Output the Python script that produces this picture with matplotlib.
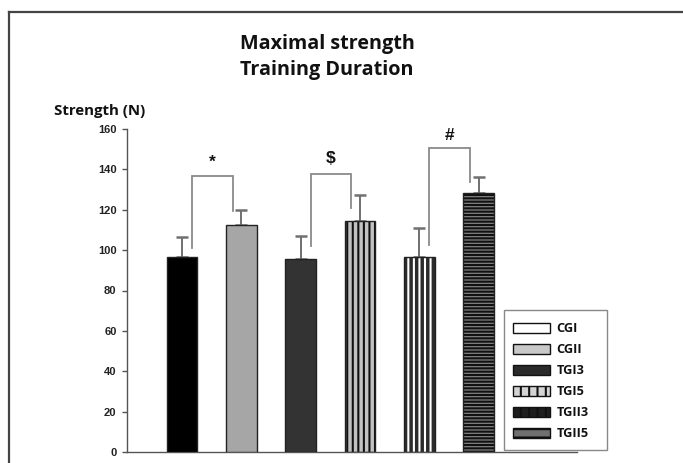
import matplotlib
matplotlib.use("Agg")
import matplotlib.pyplot as plt
import matplotlib.patches as mpatches
from matplotlib.lines import Line2D
import numpy as np

# ---- data ----
groups = ["CGI", "CGII", "TGI3", "TGI5", "TGII3", "TGII5"]
means = [96.5, 112.2, 95.6, 114.5, 96.5, 128.1]
err_up = [9.9, 7.7, 11.3, 12.9, 14.3, 7.9]
yticks = [0, 20, 40, 60, 80, 100, 120, 140, 160]
# significance brackets: (left bar, right bar, left foot, top, right foot, symbol, symbol y)
brackets = [(0, 1, 101.0, 136.6, 119.5, "*", 143.5),
            (2, 3, 102.0, 137.5, 121.0, "$", 145.5),
            (4, 5, 102.5, 150.8, 133.8, "#", 157.0)]

title_lines = ["Maximal strength", "Training Duration"]
ylabel = "Strength (N)"

# ---- styles ----
plt.rcParams["hatch.linewidth"] = 1.5
faces = ["#000000", "#a6a6a6", "#333333", "#c2c2c2", "#2b2b2b", "#808080"]
hatches = [None, None, None, "|||", "|||", "-----"]
hatch_cols = [None, None, None, "#111111", "#ffffff", "#111111"]

W, H = 683, 463
fig = plt.figure(figsize=(W / 100, H / 100), dpi=100)
ax = fig.add_axes([127 / W, 11 / H, 450 / W, 323 / H])

x = np.arange(len(groups))
bw = 0.515
for i in range(len(groups)):
    if hatches[i]:
        ax.bar(x[i], means[i], bw, color=faces[i], edgecolor=hatch_cols[i],
               hatch=hatches[i], linewidth=0, zorder=2)
        ax.bar(x[i], means[i], bw, fill=False, edgecolor="#222222",
               linewidth=1.0, zorder=3)
    else:
        ax.bar(x[i], means[i], bw, color=faces[i], edgecolor="#222222",
               linewidth=1.0, zorder=3)

ax.errorbar(x, means, yerr=[np.zeros(len(means)), err_up], fmt="none",
            ecolor="#707070", elinewidth=1.4, capsize=4, capthick=1.8, zorder=1)

for (i, j, yl, yt, yr, sym, ys) in brackets:
    xl, xr = x[i] + 0.17, x[j] - 0.15
    ax.plot([xl, xl, xr, xr], [yl, yt, yt, yr], color="#8a8a8a", lw=1.3,
            solid_joinstyle="miter", zorder=4)
    ax.text((xl + xr) / 2, ys, sym, ha="center", va="center",
            fontsize=12.5, fontweight="bold", family="Liberation Sans", color="#111111")

ax.set_xlim(-0.93, 6.66)
ax.set_ylim(0, 160)
ax.set_yticks(yticks)
ax.set_yticklabels([str(v) for v in yticks], fontsize=8, fontweight="bold",
                   family="Liberation Sans", color="#222222")
ax.set_xticks([])
for s in ["top", "right"]:
    ax.spines[s].set_visible(False)
for s in ["left", "bottom"]:
    ax.spines[s].set_color("#555555")
    ax.spines[s].set_linewidth(1.0)
ax.tick_params(axis="y", direction="out", length=3.5, width=1, color="#555555", pad=4)

for k, (line, yb) in enumerate(zip(title_lines, [49, 75])):
    fig.text(327 / W, 1 - yb / H, line, ha="center", va="baseline", fontsize=14.2,
             fontweight="bold", family="Open Sans", color="#111111")
fig.text(54 / W, 1 - 115 / H, ylabel, ha="left", va="baseline", fontsize=10.8,
         fontweight="bold", family="Open Sans", color="#111111")

# legend
leg_faces = ["#ffffff", "#c8c8c8", "#2a2a2a", "#d4d4d4", "#1e1e1e", "#707070"]
leg_hatch = [None, None, None, "||", "||", "--"]
handles = []
for i, g in enumerate(groups):
    hp = mpatches.Patch(facecolor=leg_faces[i], edgecolor="#111111",
                        hatch=leg_hatch[i], linewidth=1.0, label=g)
    handles.append(hp)
fig.add_artist(mpatches.Rectangle((504 / W, 1 - 450 / H), 103 / W, 140 / H,
                                  transform=fig.transFigure, facecolor="white",
                                  edgecolor="#888888", lw=1.0, zorder=5))
leg = fig.legend(handles=handles, loc="upper left",
                 bbox_to_anchor=(513 / W, 1 - 322.5 / H), frameon=False,
                 prop={"family": "Open Sans", "weight": "bold", "size": 9.2},
                 handlelength=2.9, handleheight=0.8, labelspacing=0.62,
                 handletextpad=0.5, borderpad=0, borderaxespad=0)
leg.set_zorder(6)
for t in leg.get_texts():
    t.set_color("#111111")

# outer frame
fig.add_artist(Line2D([9 / W, 1.0], [1 - 12 / H, 1 - 12 / H], transform=fig.transFigure,
                      color="#444444", lw=1.6))
fig.add_artist(Line2D([9 / W, 9 / W], [0, 1 - 12 / H], transform=fig.transFigure,
                      color="#444444", lw=1.6))

fig.savefig("out.png", dpi=100)
